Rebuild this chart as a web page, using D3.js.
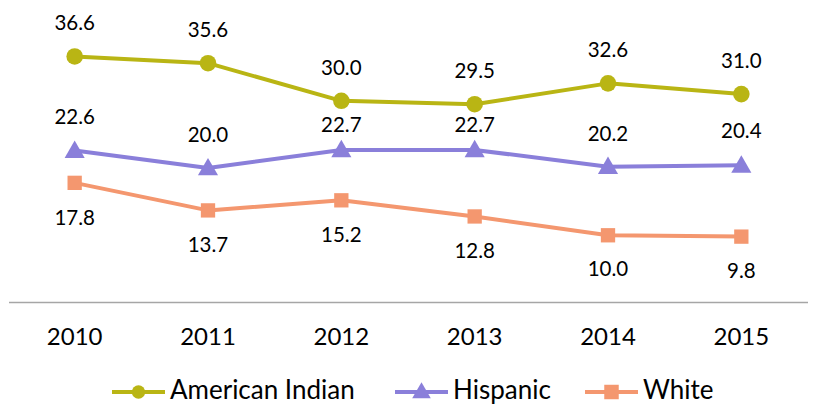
<!DOCTYPE html>
<html>
<head>
<meta charset="utf-8">
<script src="https://cdn.jsdelivr.net/npm/d3@7/dist/d3.min.js"></script>
<style>
  html, body { margin: 0; padding: 0; background: #fff; }
  svg { display: block; }
  text { font-family: Lato, "Open Sans", sans-serif; fill: #000; }
</style>
</head>
<body>
<svg id="chart" width="817" height="405"></svg>
<script>
// ---- data ----
const years = ["2010", "2011", "2012", "2013", "2014", "2015"];
const seriesNames = ["American Indian", "Hispanic", "White"];
const americanIndian = [36.6, 35.6, 30.0, 29.5, 32.6, 31.0];
const hispanic = [22.6, 20.0, 22.7, 22.7, 20.2, 20.4];
const white = [17.8, 13.7, 15.2, 12.8, 10.0, 9.8];

// ---- style ----
const colors = ["#B9B514", "#8A7FDA", "#F4976F"];
const symbols = [d3.symbolCircle, d3.symbolTriangle, d3.symbolSquare];
const symbolSizes = [215, 175, 205];
const legendSymbolSizes = [140, 150, 210];
// label offset (baseline relative to point), per series / per point
const labelDy = [
  [-26, -26, -26, -26, -26, -26],
  [-27, -26, -18, -18, -26, -27],
  [42, 42, 42, 42, 41, 41]
];

const series = [americanIndian, hispanic, white];

const svg = d3.select("#chart");

const x = d3.scaleBand().domain(years).range([8, 808]).padding(0);
const cx = d => x(d) + x.bandwidth() / 2;
const y = d3.scaleLinear().domain([0, 45]).range([302.5, 0]);

// x axis line
svg.append("line")
  .attr("x1", 9).attr("x2", 808)
  .attr("y1", y(0)).attr("y2", y(0))
  .attr("stroke", "#A6A6A6").attr("stroke-width", 1.5);

// x tick labels
svg.append("g").selectAll("text")
  .data(years).join("text")
  .attr("x", d => cx(d))
  .attr("y", 345)
  .attr("text-anchor", "middle")
  .style("font-size", "24px")
  .text(d => d);

const line = d3.line()
  .x((d, i) => cx(years[i]))
  .y(d => y(d));

series.forEach((vals, si) => {
  const g = svg.append("g");
  g.append("path")
    .datum(vals)
    .attr("d", line)
    .attr("fill", "none")
    .attr("stroke", colors[si])
    .attr("stroke-width", 4)
    .attr("stroke-linejoin", "round");

  g.selectAll("path.mk")
    .data(vals).join("path")
    .attr("class", "mk")
    .attr("transform", (d, i) => `translate(${cx(years[i])},${y(d) + (si === 1 ? 1.5 : 0)})`)
    .attr("d", d3.symbol().type(symbols[si]).size(symbolSizes[si]))
    .attr("fill", colors[si]);

  g.selectAll("text")
    .data(vals).join("text")
    .attr("x", (d, i) => cx(years[i]))
    .attr("y", (d, i) => y(d) + labelDy[si][i])
    .attr("text-anchor", "middle")
    .style("font-size", "20.5px")
    .text(d => d.toFixed(1));
});

// legend
const legendLineX = [112, 395, 585];
const legendLineW = 53;
const legendY = 392;
const legend = svg.append("g");
seriesNames.forEach((name, si) => {
  const x0 = legendLineX[si];
  legend.append("line")
    .attr("x1", x0).attr("x2", x0 + legendLineW)
    .attr("y1", legendY).attr("y2", legendY)
    .attr("stroke", colors[si]).attr("stroke-width", 4);
  legend.append("path")
    .attr("transform", `translate(${x0 + legendLineW / 2},${legendY + (si === 1 ? 1 : 0)})`)
    .attr("d", d3.symbol().type(symbols[si]).size(legendSymbolSizes[si]))
    .attr("fill", colors[si]);
  legend.append("text")
    .attr("x", x0 + legendLineW + 5)
    .attr("y", 399)
    .style("font-size", "26px")
    .text(name);
});
</script>
</body>
</html>
